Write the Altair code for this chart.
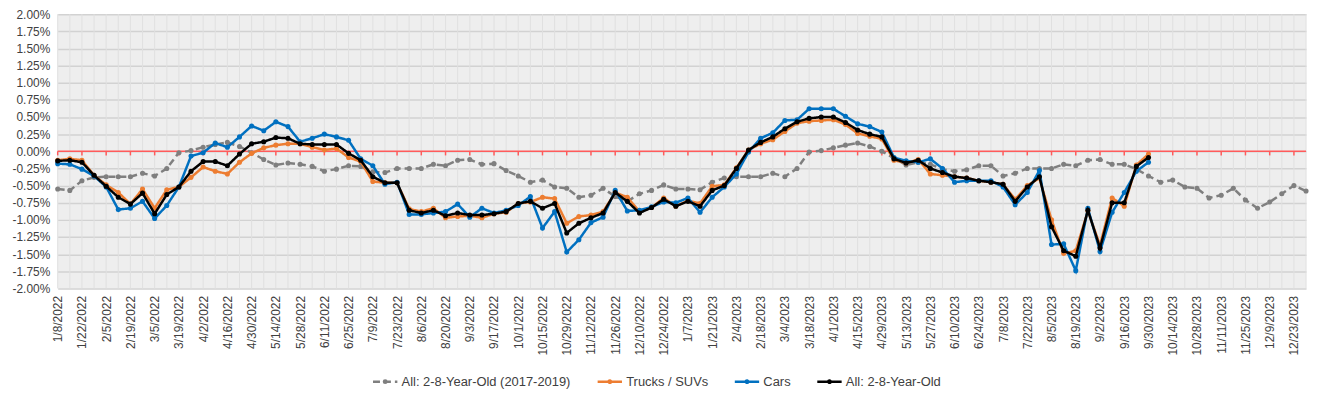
import altair as alt
import pandas as pd

# Weekly categories (Saturdays), 1/8/2022 .. 12/30/2023
weeks = [f"{d.month}/{d.day}/{d.year}" for d in pd.date_range("2022-01-08", periods=104, freq="7D")]

series_names = ["All: 2-8-Year-Old (2017-2019)", "Trucks / SUVs", "Cars", "All: 2-8-Year-Old"]
colors = ["#7f7f7f", "#ed7d31", "#0070c0", "#000000"]
dashes = [[7, 4], [1, 0], [1, 0], [1, 0]]

# values in percent
hist = [-0.55, -0.57, -0.43, -0.38, -0.37, -0.37, -0.37, -0.32, -0.36, -0.25,
        -0.02, 0.01, 0.06, 0.10, 0.13, 0.07, -0.02, -0.12, -0.20, -0.17,
        -0.19, -0.22, -0.29, -0.26, -0.21, -0.22, -0.30, -0.31, -0.25, -0.25,
        -0.25, -0.19, -0.21, -0.13, -0.12, -0.19, -0.18, -0.28, -0.36, -0.45,
        -0.42, -0.52, -0.54, -0.67, -0.64, -0.54, -0.66, -0.73, -0.62, -0.57,
        -0.49, -0.55, -0.55, -0.56, -0.45, -0.39, -0.37, -0.37, -0.37, -0.32,
        -0.37, -0.25, -0.01, 0.01, 0.05, 0.09, 0.12, 0.07, 0.00, -0.10,
        -0.20, -0.16, -0.19, -0.26, -0.29, -0.27, -0.21, -0.21, -0.36, -0.32,
        -0.25, -0.25, -0.25, -0.19, -0.21, -0.13, -0.12, -0.19, -0.19, -0.26,
        -0.36, -0.45, -0.42, -0.52, -0.54, -0.68, -0.64, -0.54, -0.71, -0.83,
        -0.74, -0.62, -0.50, -0.58]

trucks = [-0.13, -0.11, -0.13, -0.35, -0.49, -0.60, -0.77, -0.55, -0.83, -0.56,
          -0.52, -0.38, -0.23, -0.29, -0.33, -0.16, -0.03, 0.05, 0.09, 0.11,
          0.11, 0.06, 0.02, 0.04, -0.09, -0.15, -0.44, -0.46, -0.46, -0.84,
          -0.88, -0.83, -0.97, -0.95, -0.94, -0.97, -0.91, -0.89, -0.76, -0.74,
          -0.67, -0.69, -1.05, -0.95, -0.93, -0.88, -0.60, -0.67, -0.88, -0.82,
          -0.68, -0.80, -0.72, -0.76, -0.51, -0.49, -0.24, 0.02, 0.11, 0.17,
          0.29, 0.41, 0.44, 0.45, 0.46, 0.39, 0.26, 0.22, 0.18, -0.13,
          -0.17, -0.12, -0.33, -0.35, -0.37, -0.39, -0.43, -0.45, -0.48, -0.70,
          -0.50, -0.39, -1.00, -1.49, -1.45, -0.87, -1.37, -0.68, -0.80, -0.20,
          -0.04]

cars = [-0.18, -0.19, -0.26, -0.36, -0.52, -0.85, -0.83, -0.73, -0.98, -0.79,
        -0.52, -0.07, -0.02, 0.12, 0.06, 0.21, 0.37, 0.30, 0.43, 0.36,
        0.14, 0.19, 0.25, 0.21, 0.16, -0.11, -0.21, -0.48, -0.45, -0.92,
        -0.92, -0.90, -0.88, -0.77, -0.96, -0.83, -0.90, -0.86, -0.79, -0.66,
        -1.12, -0.88, -1.47, -1.29, -1.04, -0.96, -0.57, -0.87, -0.86, -0.81,
        -0.74, -0.75, -0.68, -0.89, -0.67, -0.52, -0.33, -0.01, 0.19, 0.27,
        0.45, 0.46, 0.62, 0.62, 0.62, 0.51, 0.40, 0.36, 0.28, -0.09,
        -0.14, -0.16, -0.11, -0.25, -0.45, -0.43, -0.43, -0.43, -0.52, -0.78,
        -0.60, -0.28, -1.36, -1.35, -1.74, -0.83, -1.46, -0.89, -0.60, -0.29,
        -0.16]

all_vals = [-0.14, -0.13, -0.16, -0.35, -0.51, -0.67, -0.77, -0.61, -0.91, -0.63,
            -0.52, -0.29, -0.15, -0.15, -0.21, -0.04, 0.11, 0.14, 0.20, 0.19,
            0.11, 0.10, 0.10, 0.10, -0.03, -0.13, -0.37, -0.46, -0.46, -0.86,
            -0.90, -0.86, -0.94, -0.90, -0.93, -0.93, -0.91, -0.88, -0.76, -0.73,
            -0.83, -0.76, -1.19, -1.05, -0.97, -0.90, -0.60, -0.73, -0.90, -0.82,
            -0.70, -0.80, -0.73, -0.80, -0.57, -0.50, -0.25, 0.02, 0.13, 0.21,
            0.33, 0.43, 0.48, 0.50, 0.50, 0.42, 0.31, 0.25, 0.21, -0.11,
            -0.17, -0.13, -0.25, -0.31, -0.37, -0.39, -0.43, -0.45, -0.48, -0.73,
            -0.52, -0.37, -1.10, -1.45, -1.53, -0.86, -1.41, -0.75, -0.75, -0.22,
            -0.09]

y_ticks = [-2 + 0.25 * k for k in range(17)]

rows = []
for name, vals in zip(series_names, [hist, trucks, cars, all_vals]):
    for w, v in zip(weeks, vals):
        rows.append({"week": w, "value": v, "series": name})
df = pd.DataFrame(rows)
df_weeks = pd.DataFrame({"week": weeks})
df_ticks = pd.DataFrame({"week": weeks[::2]})

xscale = alt.Scale(type="point", padding=0, domain=weeks)
xaxis = alt.Axis(values=weeks[::2], labelAngle=270, grid=False, ticks=False, domain=False,
                 title=None, labelFontSize=12, labelPadding=7, labelOverlap=False,
                 labelColor="#404040")
xenc = alt.X("week:O", scale=xscale, axis=xaxis)

yscale = alt.Scale(domain=[-2, 2], nice=False, zero=False)
yaxis = alt.Axis(values=y_ticks, grid=True, gridColor="#d2d2d2", gridWidth=1.5,
                 ticks=False, domain=False, title=None, labelFontSize=12, labelPadding=8,
                 labelColor="#404040",
                 labelExpr="(datum.value < -0.0001 ? '-' : '') + format(abs(datum.value), '.2f') + '%'")

vgrid = alt.Chart(df_weeks).mark_rule(color="#e0e0e0", strokeWidth=1).encode(x=xenc)

zero = alt.Chart(df_weeks).mark_rule(color="#ff5b5b", strokeWidth=1.5).encode(
    y=alt.Y("z:Q", scale=yscale, axis=yaxis)
).transform_calculate(z="0").transform_aggregate(z="min(z)")

ticks = alt.Chart(df_ticks).mark_rule(color="#ff5b5b", strokeWidth=1.5).encode(
    x=xenc,
    y=alt.Y("t0:Q", scale=yscale, axis=yaxis),
    y2="t1:Q",
).transform_calculate(t0="0", t1="-0.06")

# line-with-marker legend symbol
legend_symbol = "M-1,0L1,0M-0.1,0a0.1,0.1 0 1,0 0.2,0a0.1,0.1 0 1,0 -0.2,0"

legend = alt.Legend(orient="none", legendX=316, legendY=356, direction="horizontal",
                    title=None, symbolType=legend_symbol, symbolSize=600, symbolStrokeWidth=2.5,
                    labelFontSize=13, labelLimit=400, columnPadding=21, labelOffset=3,
                    labelColor="#404040")

base = alt.Chart(df).encode(
    x=xenc,
    y=alt.Y("value:Q", scale=yscale, axis=yaxis),
    color=alt.Color("series:N", scale=alt.Scale(domain=series_names, range=colors), legend=legend),
    strokeDash=alt.StrokeDash("series:N", scale=alt.Scale(domain=series_names, range=dashes), legend=legend),
)

lines = [
    base.transform_filter(alt.datum.series == name).mark_line(
        strokeWidth=2.5, point=alt.OverlayMarkDef(size=26, filled=True, opacity=1)
    )
    for name in series_names
]

chart = alt.layer(vgrid, zero, ticks, *lines).properties(
    width=1256, height=276,
    autosize=alt.AutoSizeParams(type="none"),
    padding={"left": 50, "top": 5, "right": 8, "bottom": 104},
).configure(font="Liberation Sans").configure_view(fill="#eeeeee", strokeWidth=0)

chart.save("out.html", embed_options={"renderer": "svg", "actions": False})
